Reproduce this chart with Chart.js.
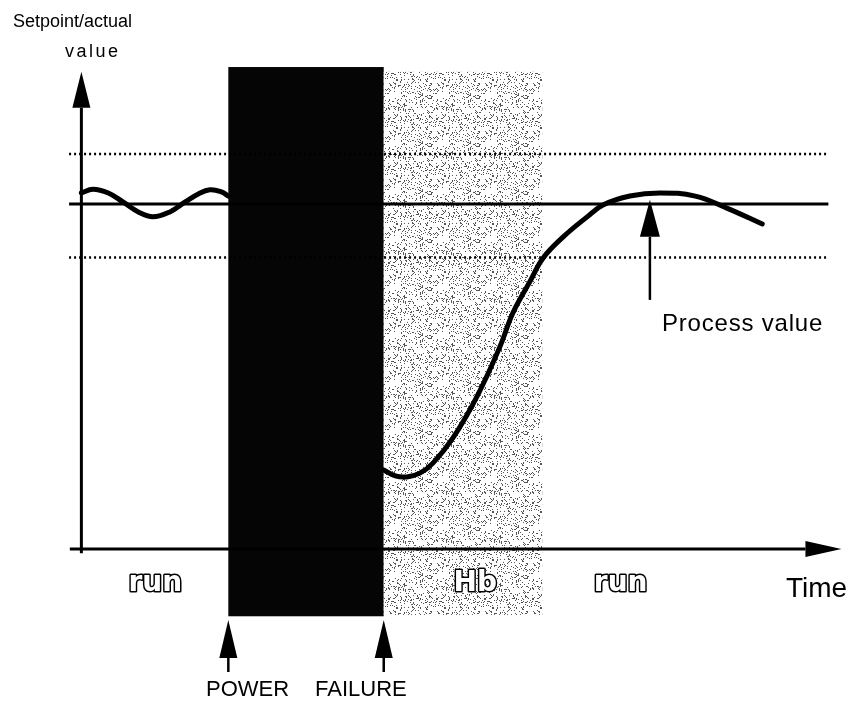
<!DOCTYPE html>
<html>
<head>
<meta charset="utf-8">
<title>Setpoint/actual value after power failure</title>
<script src="https://cdn.jsdelivr.net/npm/chart.js@4.4.0/dist/chart.umd.min.js"></script>
<style>
  html, body { margin: 0; padding: 0; background: #fff; }
  #wrap { width: 853px; height: 701px; }
</style>
</head>
<body>
<div id="wrap"><canvas id="chart" width="853" height="701"></canvas></div>
<script>
// process value while running, before the power failure
const runTime1 = [0, 1.5, 3.5, 5.4, 7.4, 9.3, 11.5, 13.5, 15.2, 16.7, 18.2, 19.1];
const runValue1 = [103.2, 104.3, 103.2, 100.6, 97.7, 96.3, 97.7, 100.6, 102.9, 104.1, 103.5, 102.3];
// process value after the power comes back (Hb, then run)
const runTime2 = [39.3, 40.8, 42.3, 44.0, 45.7, 48.3, 51.4, 54.4, 56.1, 58.3, 60.0, 62.6, 65.7, 67.8, 71.3, 75.2, 79.8, 83.9, 88.5];
const runValue2 = [22.9, 21.2, 20.9, 22.0, 24.9, 32.2, 44.1, 58.6, 68.5, 77.5, 84.3, 90.4, 96.2, 99.7, 102.3, 103.2, 102.3, 98.8, 94.2];

const setpoint = 100;
const limits = [114.5, 84.5];
const lineStart = -1.6, lineEnd = 97.1;

// phases on the time axis
const powerFail = 19.1;
const powerBack = 39.3;
const hbEnd = 59.9;
const phaseNames = ['run', 'Hb', 'run'];

const ctx = document.getElementById('chart').getContext('2d');

function pts(ts, vs) {
  return ts.map((t, i) => ({ x: t, y: vs[i] }));
}

function flat(v) {
  return [{ x: lineStart, y: v }, { x: lineEnd, y: v }];
}

// speckled tile for the Hb band (fixed hash, same every run)
function stipple() {
  const n = 48;
  const c = document.createElement('canvas');
  c.width = n; c.height = n;
  const g = c.getContext('2d');
  g.fillStyle = '#fff';
  g.fillRect(0, 0, n, n);
  g.fillStyle = '#555';
  for (let i = 0; i < n; i++) {
    for (let j = 0; j < n; j++) {
      let h = (i * 374761393 + j * 668265263) | 0;
      h = Math.imul(h ^ (h >>> 13), 1274126177);
      h = (h ^ (h >>> 16)) >>> 0;
      if (h % 100 < 15) g.fillRect(i, j, 1, 1);
    }
  }
  return c;
}

function arrow(c, x0, y0, x1, y1, len, w, lw) {
  const a = Math.atan2(y1 - y0, x1 - x0);
  const bx = x1 - Math.cos(a) * len, by = y1 - Math.sin(a) * len;
  c.lineWidth = lw;
  c.beginPath();
  c.moveTo(x0, y0);
  c.lineTo(bx, by);
  c.stroke();
  c.beginPath();
  c.moveTo(x1, y1);
  c.lineTo(bx + Math.sin(a) * w / 2, by - Math.cos(a) * w / 2);
  c.lineTo(bx - Math.sin(a) * w / 2, by + Math.cos(a) * w / 2);
  c.closePath();
  c.fill();
}

const sketch = {
  id: 'sketch',
  beforeDatasetsDraw(chart) {
    const c = chart.ctx;
    const { x, y } = chart.scales;
    c.save();
    // power failure
    c.fillStyle = '#050505';
    const bTop = y.getPixelForValue(139.7), bBot = y.getPixelForValue(-19.5);
    c.fillRect(x.getPixelForValue(powerFail), bTop,
      x.getPixelForValue(powerBack) - x.getPixelForValue(powerFail), bBot - bTop);
    // Hb stipple
    c.fillStyle = c.createPattern(stipple(), 'repeat');
    const gTop = y.getPixelForValue(138.3), gBot = y.getPixelForValue(-19.1);
    c.fillRect(x.getPixelForValue(powerBack), gTop,
      x.getPixelForValue(hbEnd) - x.getPixelForValue(powerBack), gBot - gTop);
    c.restore();
  },
  afterDatasetsDraw(chart) {
    const c = chart.ctx;
    const { x, y } = chart.scales;
    c.save();
    c.strokeStyle = '#000';
    c.fillStyle = '#000';
    const x0 = x.getPixelForValue(0), y0 = y.getPixelForValue(0);
    // axes
    arrow(c, x0, y.getPixelForValue(-1.2), x0, y.getPixelForValue(138.3), 36, 18, 3);
    arrow(c, x.getPixelForValue(-1.5), y0, x.getPixelForValue(98.8), y0, 36, 16, 3);
    // process value pointer
    const px = x.getPixelForValue(73.9);
    arrow(c, px, y.getPixelForValue(72.2), px, y.getPixelForValue(101.2), 37, 20, 2.5);
    // power failure pointers
    [powerFail, powerBack].forEach(t => {
      const ax = x.getPixelForValue(t);
      arrow(c, ax, 672, ax, 620, 38, 18, 2.5);
    });

    // texts
    c.textBaseline = 'alphabetic';
    c.textAlign = 'left';
    c.font = '18px "Liberation Sans", Arial, sans-serif';
    c.fillText('Setpoint/actual', 13, 27);
    c.letterSpacing = '2.5px';
    c.fillText('value', 65, 57);
    c.letterSpacing = '0px';

    c.font = '22px "Liberation Sans", Arial, sans-serif';
    c.fillText('POWER', 206, 696);
    c.fillText('FAILURE', 315, 696);

    c.font = '24px "Liberation Sans", Arial, sans-serif';
    c.letterSpacing = '0.8px';
    c.fillText('Process value', 662, 331);
    c.letterSpacing = '0px';

    c.font = '28px "Liberation Sans", Arial, sans-serif';
    c.fillText('Time', 786, 597);

    // outlined phase labels
    c.font = 'bold 28px "DejaVu Sans", sans-serif';
    c.textAlign = 'center';
    c.lineJoin = 'round';
    const centres = [x.getPixelForValue(9.6), x.getPixelForValue(51.2), x.getPixelForValue(70.1)];
    phaseNames.forEach((name, i) => {
      c.lineWidth = 3;
      c.strokeStyle = '#000';
      c.strokeText(name, centres[i], 591);
      c.fillStyle = '#fff';
      c.fillText(name, centres[i], 591);
    });
    c.restore();
  }
};

new Chart(ctx, {
  type: 'line',
  data: {
    datasets: [
      {
        label: 'Setpoint',
        data: flat(setpoint),
        borderColor: '#000',
        borderWidth: 3,
        pointRadius: 0
      },
      {
        label: 'Upper limit',
        data: flat(limits[0]),
        borderColor: '#000',
        borderWidth: 2.5,
        borderDash: [2, 3],
        pointRadius: 0
      },
      {
        label: 'Lower limit',
        data: flat(limits[1]),
        borderColor: '#000',
        borderWidth: 2.5,
        borderDash: [2, 3],
        pointRadius: 0
      },
      {
        label: 'Process value',
        data: pts(runTime1, runValue1).concat([{ x: 29, y: null }], pts(runTime2, runValue2)),
        borderColor: '#000',
        borderWidth: 5,
        borderCapStyle: 'round',
        tension: 0.4,
        spanGaps: false,
        pointRadius: 0
      }
    ]
  },
  options: {
    responsive: false,
    animation: false,
    devicePixelRatio: 1,
    layout: { padding: { left: 66, right: 10, top: 66, bottom: 83 } },
    plugins: {
      legend: { display: false },
      tooltip: { enabled: false }
    },
    scales: {
      x: { type: 'linear', min: -2, max: 99, display: false },
      y: { type: 'linear', min: -20, max: 140, display: false }
    }
  },
  plugins: [sketch]
});
</script>
</body>
</html>
